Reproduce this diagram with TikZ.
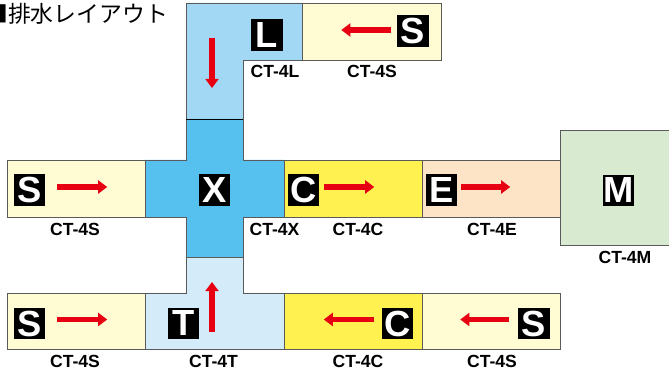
\documentclass[tikz,border=0pt]{standalone}
\usepackage{fontspec}
\setmainfont{Liberation Sans}
\newfontfamily\jpfont{Noto Sans CJK JP}
\usepackage{tikz}
\usetikzlibrary{arrows.meta}

\definecolor{cream}{HTML}{FFFBD3}
\definecolor{xblue}{HTML}{56C1EF}
\definecolor{lblue}{HTML}{A3D8F5}
\definecolor{tblue}{HTML}{D4EBF9}
\definecolor{cyell}{HTML}{FFF250}
\definecolor{epeach}{HTML}{FDE4C7}
\definecolor{mgreen}{HTML}{D8EACF}
\definecolor{flowred}{HTML}{E60012}
\definecolor{edge}{HTML}{5A5A5A}

\begin{document}
\begin{tikzpicture}[
      x=0.03cm,y=-0.03cm,
      part/.style={draw=edge,line width=0.8pt},
      ico/.style={fill=black,text=white,minimum size=26.5pt,inner sep=0pt,
        font=\fontsize{31}{31}\bfseries},
      lbl/.style={inner sep=0pt,font=\fontsize{15}{15}\bfseries},
      flow/.style={draw=flowred,line width=4.3pt,
        -{Triangle[length=7.7pt,width=11pt]}}
    ]
    \useasboundingbox (0,0) rectangle (669,374);
    % title
    \node[anchor=west,inner sep=0pt,font=\jpfont\fontsize{19.5}{19.5}\selectfont]
      (title) at (-15,14) {■排水レイアウト};
    % top row: L piece and its S
    \fill[lblue] (186,3) -- (302,3) -- (302,60) -- (243,60) -- (243,119)
      -- (186,119) -- cycle;
    \draw[part] (243,119) -- (243,60) -- (302,60) -- (302,3) -- (186,3)
      -- (186,119);
    \draw[part,fill=cream] (302,3) rectangle (441,60);
    % middle row
    \draw[part,fill=cream] (7,160) rectangle (145,217);
    \draw[part,fill=cyell] (284,160) rectangle (422,217);
    \draw[part,fill=epeach] (422,160) rectangle (560,217);
    \draw[part,fill=mgreen] (560,130) rectangle (675,245);
    % bottom row
    \draw[part,fill=cream] (7,293) rectangle (145,349);
    \draw[part,fill=cyell] (284,293) rectangle (422,349);
    \draw[part,fill=cream] (422,293) rectangle (560,349);
    \draw[part,fill=tblue] (186,257) -- (243,257) -- (243,293) -- (284,293)
      -- (284,349) -- (145,349) -- (145,293) -- (186,293) -- cycle;
    % cross
    \draw[part,fill=xblue] (186,119) -- (243,119) -- (243,160) -- (284,160)
      -- (284,217) -- (243,217) -- (243,257) -- (186,257) -- (186,217)
      -- (145,217) -- (145,160) -- (186,160) -- cycle;
    \draw[line width=0.8pt] (186,119) -- (243,119);
    % icons
    \node[ico] (icoL) at (267,35) {L};
    \node[ico] (icoS1) at (413,31) {S};
    \node[ico] (icoS2) at (29.5,190) {S};
    \node[ico] (icoX) at (214.5,190) {X};
    \node[ico] (icoC1) at (303.5,190) {C};
    \node[ico] (icoE) at (441.5,190) {E};
    \node[ico] (icoM) at (618.5,190.5) {M};
    \node[ico] (icoS3) at (29.5,323.5) {S};
    \node[ico] (icoT) at (183.5,323.5) {T};
    \node[ico] (icoC2) at (397.5,323.5) {C};
    \node[ico] (icoS4) at (534,323.5) {S};
    % flow arrows
    \coordinate (dL) at (212,38);
    \draw[flow] (dL) -- ++(0,50);
    \draw[flow] ([xshift=-0.18cm,yshift=0.03cm]icoS1.west) -- ++(-50,0);
    \draw[flow] ([xshift=0.36cm,yshift=0.09cm]icoS2.east) -- ++(50,0);
    \draw[flow] ([xshift=0.15cm,yshift=0.09cm]icoC1.east) -- ++(50,0);
    \draw[flow] ([xshift=0.12cm,yshift=0.09cm]icoE.east) -- ++(49,0);
    \draw[flow] ([xshift=0.36cm,yshift=0.12cm]icoS3.east) -- ++(50,0);
    \coordinate (uT) at (212,332);
    \draw[flow] (uT) -- ++(0,-50);
    \draw[flow] ([xshift=-0.24cm,yshift=0.12cm]icoC2.west) -- ++(-50,0);
    \draw[flow] ([xshift=-0.27cm,yshift=0.12cm]icoS4.west) -- ++(-49,0);
    % labels
    \node[lbl] (nL) at (275,71) {CT-4L};
    \node[lbl] (nS1) at (372,71) {CT-4S};
    \node[lbl] (nS2) at (75,229.5) {CT-4S};
    \node[lbl] (nX) at (274.5,229.5) {CT-4X};
    \node[lbl] (nC1) at (358,229.5) {CT-4C};
    \node[lbl] (nE) at (492,229.5) {CT-4E};
    \node[lbl] (nM) at (625,257.5) {CT-4M};
    \node[lbl] (nS3) at (75,361.5) {CT-4S};
    \node[lbl] (nT) at (213.5,361.5) {CT-4T};
    \node[lbl] (nC2) at (358,361.5) {CT-4C};
    \node[lbl] (nS4) at (492,361.5) {CT-4S};
  \end{tikzpicture}
\end{document}
